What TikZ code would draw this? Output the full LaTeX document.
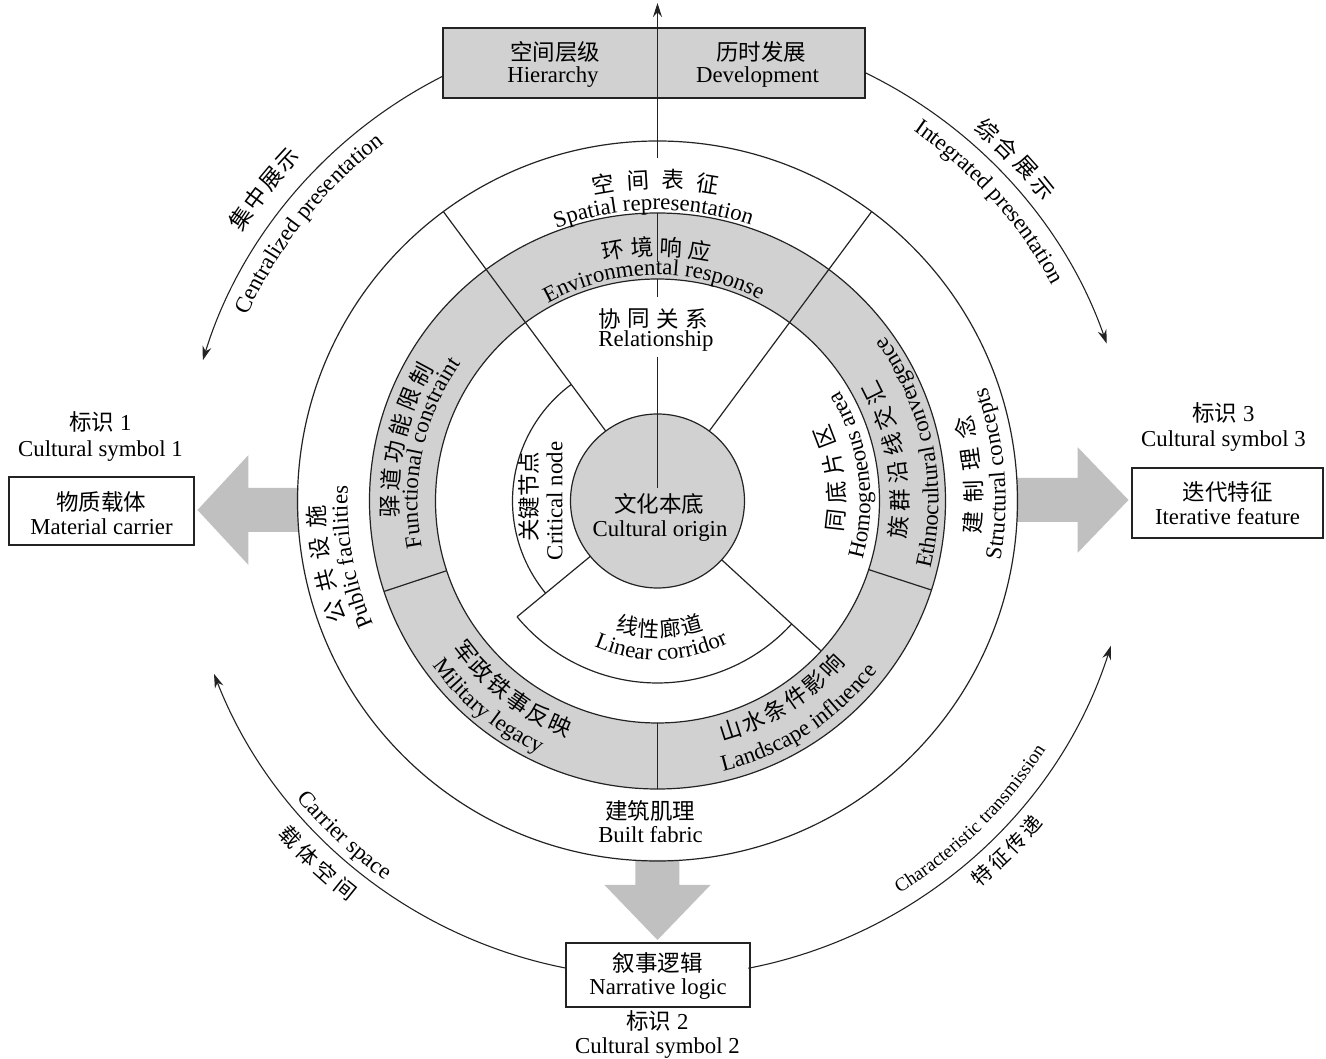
\documentclass[tikz,border=0pt]{standalone}
\usepackage{fontspec}
\setmainfont{Liberation Serif}
\newfontfamily\cjk{Noto Sans CJK SC}
\usetikzlibrary{arrows.meta,decorations.text}
\definecolor{ringgray}{RGB}{209,209,209}
\definecolor{arrowgray}{RGB}{192,192,192}
\definecolor{linecol}{RGB}{35,35,35}
\newcommand\ensz{\fontsize{22.8}{26}\selectfont}
\newcommand\cnsz{\cjk\fontsize{22.5}{26}\selectfont}
\newcommand\cwtext[4]{\path[decorate,decoration={text along path,text align=center,text={|#4|#3}}] (#2+70:#1) arc[start angle=#2+70,end angle=#2-70,radius=#1];}
\newcommand\ccwtext[4]{\path[decorate,decoration={text along path,text align=center,text={|#4|#3}}] (#2-70:#1) arc[start angle=#2-70,end angle=#2+70,radius=#1];}
\newcommand\cnarc[8]{\foreach \ch [count=\ci] in {#8}{\pgfmathsetmacro\ca{#2+(\ci-(#6+1)/2)*(#3)}\node[inner sep=0pt,rotate={\ca+(#4)},font={\cjk\fontsize{#5}{#5}\selectfont}] (#7-\ci) at (\ca:#1) {\ch};}}
\begin{document}
\begin{tikzpicture}[x=1pt,y=1pt,
  ln/.style={line width=1.2pt,draw=linecol},
  en/.style={font=\ensz,inner sep=0pt},
  cn/.style={font=\cnsz,inner sep=0pt},
  boxnode/.style={draw=linecol,line width=1.2pt,inner sep=0pt},
  arcarrow/.style={line width=1.1pt,draw=linecol,-{Stealth[length=14pt,width=9pt]}}]
\useasboundingbox (-657.5,-558) rectangle (668.5,501);
% grey ring and core
\fill[ringgray,even odd rule] (0,0) circle[radius=288] (0,0) circle[radius=222];
\fill[ringgray] (0,0) circle[radius=87];
% big block arrows
\fill[arrowgray] (-359,13) -- (-409,13) -- (-409,46) -- (-460,-9) -- (-409,-64) -- (-409,-31) -- (-359,-31) -- cycle;
\fill[arrowgray] (359,23) -- (420,23) -- (420,54) -- (471,1) -- (420,-52) -- (420,-21) -- (359,-21) -- cycle;
\fill[arrowgray] (-22,-359) -- (-22,-384) -- (-53,-384) -- (0,-439) -- (53,-384) -- (22,-384) -- (22,-359) -- cycle;
% circles
\draw[ln] (0,0) circle[radius=360];
\draw[ln] (0,0) circle[radius=288];
\draw[ln] (0,0) circle[radius=222];
\draw[ln] (0,0) circle[radius=87];
\draw[ln] (126.5:145) arc[start angle=126.5,end angle=219.5,radius=145];
\draw[ln] (219.5:182) arc[start angle=219.5,end angle=317.5,radius=182];
% radial lines
\draw[ln] (126.5:87) -- (126.5:360);
\draw[ln] (53.5:87) -- (53.5:360);
\draw[ln] (219.5:87) -- (219.5:182);
\draw[ln] (317.5:87) -- (317.5:222);
\draw[ln] (198.3:222) -- (198.3:288);
\draw[ln] (270:222) -- (270:288);
\draw[ln] (342:222) -- (342:288);
% vertical line segments
\draw[ln] (0,288) -- (0,239);
\draw[ln] (0,222) -- (0,204);
\draw[ln] (0,144) -- (0,13);
% boxes
\node[boxnode,fill=ringgray,minimum width=422pt,minimum height=70pt] (topbox) at (-3.5,438) {};
\node[boxnode,fill=white,minimum width=185pt,minimum height=68pt] (lbox) at (-556,-10) {};
\node[boxnode,fill=white,minimum width=191pt,minimum height=70pt] (rbox) at (570,-2) {};
\node[boxnode,fill=white,minimum width=184pt,minimum height=64pt] (bbox) at (0.5,-474) {};
\draw[ln,-{Stealth[length=14pt,width=9pt]}] (0,343) -- (0,498);
% outer arc arrows
\draw[arcarrow] (116.7:476) arc[start angle=116.7,end angle=162.8,radius=476];
\draw[arcarrow] (64.1:476) arc[start angle=64.1,end angle=19.3,radius=476];
\draw[arcarrow] (259:476) arc[start angle=259,end angle=201.3,radius=476];
\draw[arcarrow] (281:476) arc[start angle=281,end angle=342.3,radius=476];
% box texts
\node[cn] (kjcj) at (-102,449) {空间层级};
\node[en,anchor=base] (hier) at (-104.5,418) {Hierarchy};
\node[cn] (lsfz) at (104,449) {历时发展};
\node[en,anchor=base] (dev) at (100,418) {Development};
\node[cn] (wzzt) at (-556,-1) {物质载体};
\node[en,anchor=base] (mc) at (-556,-34) {Material carrier};
\node[en,anchor=base] (bs1) at (-557,70) {{\cnsz 标识} 1};
\node[en,anchor=base] (cs1) at (-557,44) {Cultural symbol 1};
\node[cn] (ddtz) at (570,9) {迭代特征};
\node[en,anchor=base] (itf) at (570,-24) {Iterative feature};
\node[en,anchor=base] (bs3) at (566,79) {{\cnsz 标识} 3};
\node[en,anchor=base] (cs3) at (566,54) {Cultural symbol 3};
\node[cn] (xslj) at (0.5,-462) {叙事逻辑};
\node[en,anchor=base] (nl) at (0.5,-494) {Narrative logic};
\node[en,anchor=base] (bs2) at (0,-529) {{\cnsz 标识} 2};
\node[en,anchor=base] (cs2) at (0,-553) {Cultural symbol 2};
% centre and straight labels
\node[cn] (whbd) at (2,-3) {文化本底};
\node[en,anchor=base] (corig) at (2.5,-36) {Cultural origin};
\node[cn] (xt1) at (-47.5,182.5) {协};
\node[cn] (xt2) at (-18.5,182.5) {同};
\node[cn] (xt3) at (10.5,182.5) {关};
\node[cn] (xt4) at (39.5,182.5) {系};
\node[en,anchor=base] (rel) at (-1.5,154) {Relationship};
\node[cn,rotate=90] (gjjd) at (-128.5,4) {关键节点};
\node[en,rotate=90,anchor=base] (crn) at (-95,0) {Critical node};
\node[cn] (jzjl) at (-7,-310) {建筑肌理};
\node[en,anchor=base] (bfab) at (-7,-342) {Built fabric};
% curved Chinese labels
\cnarc{321.5}{90.3}{-6.25}{-90}{22.5}{4}{kjbz}{空,间,表,征}
\cnarc{254}{90.2}{-6.5}{-90}{22.5}{4}{hjxy}{环,境,响,应}
\cnarc{341}{190.8}{-5.43}{-90}{22.5}{4}{ggss}{公,共,设,施}
\cnarc{268}{166.5}{-5.9}{-90}{22.5}{6}{ydgn}{驿,道,功,能,限,制}
\cnarc{503}{141.6}{-2.85}{-90}{22.5}{4}{jzzs}{集,中,展,示}
\cnarc{496.5}{43.7}{-3.1}{-90}{22.5}{4}{zhzs}{综,合,展,示}
\cnarc{179}{7.3}{9.1}{90}{22.5}{4}{tdpq}{同,底,片,区}
\cnarc{242}{10.1}{6.56}{90}{22.5}{6}{zqyx}{族,群,沿,线,交,汇}
\cnarc{316}{4.7}{5.8}{90}{22.5}{4}{jzln}{建,制,理,念}
\cnarc{244}{232.4}{5.68}{90}{22.5}{6}{jzts}{军,政,铁,事,反,映}
\cnarc{240}{302.2}{5.78}{90}{22.5}{6}{sstj}{山,水,条,件,影,响}
\cnarc{128}{271}{9.7}{90}{21.5}{4}{xxld}{线,性,廊,道}
\cnarc{498}{226.8}{2.9}{90}{21}{4}{ztkj}{载,体,空,间}
\cnarc{495}{315}{2.7}{90}{20}{4}{tzcd}{特,征,传,递}
% curved English labels
\cwtext{291}{90.8}{Spatial representation}{\ensz}
\cwtext{226}{91}{Environmental response}{\ensz}
\cwtext{240}{168}{Functional constraint}{\ensz}
\cwtext{310}{190.4}{Public facilities}{\ensz}
\cwtext{450}{141.5}{Centralized presentation}{\ensz}
\cwtext{450}{42}{Integrated presentation}{\ensz}
\ccwtext{213}{7.7}{Homogeneous area}{\ensz}
\ccwtext{281}{11}{Ethnocultural convergence}{\ensz}
\ccwtext{348}{4.6}{Structural concepts}{\ensz}
\ccwtext{279}{230.5}{Military legacy}{\ensz}
\ccwtext{278}{303}{Landscape influence}{\ensz}
\ccwtext{159}{271.5}{Linear corridor}{\ensz}
\ccwtext{467}{226.9}{Carrier space}{\ensz}
\ccwtext{461}{314.5}{Characteristic transmission}{\fontsize{19}{22}\selectfont}
\end{tikzpicture}
\end{document}
